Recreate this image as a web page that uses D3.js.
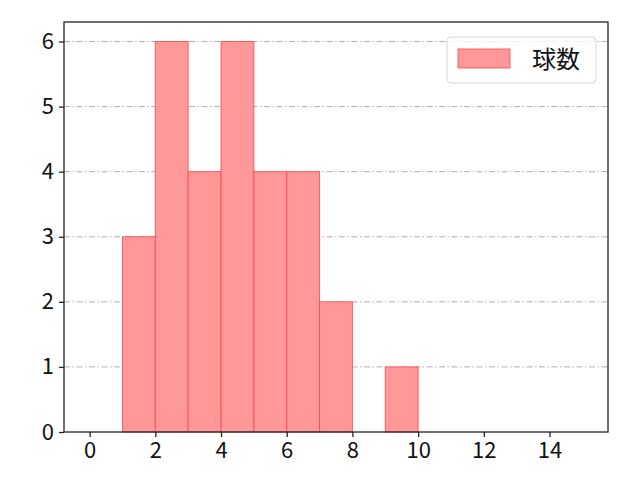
<!DOCTYPE html>
<html>
<head>
<meta charset="utf-8">
<script src="https://cdn.jsdelivr.net/npm/d3@7"></script>
<style>
  body { margin: 0; background: #fff; }
  text { font-family: "Noto Sans CJK JP", "DejaVu Sans", sans-serif; }
</style>
</head>
<body>
<script>
const width  = 640
const height = 480

// histogram bins (left edge, right edge) and counts
const binStart = [1, 2, 3, 4, 5, 6, 7, 8, 9]
const binEnd   = [2, 3, 4, 5, 6, 7, 8, 9, 10]
const counts   = [3, 6, 4, 6, 4, 4, 2, 0, 1]
const xTicks   = [0, 2, 4, 6, 8, 10, 12, 14]
const yTicks   = [0, 1, 2, 3, 4, 5, 6]
const seriesName = "球数"

const margin = {top: 22, right: 32, bottom: 48, left: 64}

const x = d3.scaleLinear()
	.domain([-0.78, 15.78])
	.range([margin.left, width - margin.right])

const y = d3.scaleLinear()
	.domain([0, 6.3])
	.range([height - margin.bottom, margin.top])

const svg = d3.select("body").append("svg")
	.attr("width", width)
	.attr("height", height)

//grid
svg.append("g")
  .selectAll("line")
  .data(yTicks.slice(1))
  .join("line")
	.attr("x1", margin.left)
	.attr("x2", width - margin.right)
	.attr("y1", d => y(d))
	.attr("y2", d => y(d))
	.attr("stroke", "#b0b0b0")
	.attr("stroke-width", 1)
	.attr("stroke-dasharray", "6,2.5,1.5,2.5")

//bars
const bins = counts.map((c, i) => ({x0: binStart[i], x1: binEnd[i], n: c}))
svg.append("g")
  .selectAll("rect")
  .data(bins.filter(d => d.n > 0))
  .join("rect")
	.attr("x", d => x(d.x0))
	.attr("width", d => x(d.x1) - x(d.x0))
	.attr("y", d => y(d.n))
	.attr("height", d => y(0) - y(d.n))
	.attr("fill", "#ff9999")
	.attr("stroke", "#ff4444")
	.attr("stroke-opacity", 0.8)
	.attr("stroke-width", 1)

//axes
const xAxis = svg.append("g")
	.attr("transform", `translate(0,${y(0)})`)
	.call(d3.axisBottom(x).tickValues(xTicks).tickFormat(d3.format("d")).tickSize(5).tickPadding(5).tickSizeOuter(0))
const yAxis = svg.append("g")
	.attr("transform", `translate(${margin.left},0)`)
	.call(d3.axisLeft(y).tickValues(yTicks).tickFormat(d3.format("d")).tickSize(5).tickPadding(5).tickSizeOuter(0))

for (const g of [xAxis, yAxis]) {
	g.attr("font-size", 22).attr("font-family", null)
	g.select(".domain").remove()
	g.selectAll("line").attr("stroke", "#222").attr("stroke-width", 1.3)
	g.selectAll("text").attr("fill", "#111")
		.attr("font-size", 22)
		.style("font-size", "22px")
		.style("font-family", '"Noto Sans CJK JP", "DejaVu Sans", sans-serif')
}

//frame
svg.append("rect")
	.attr("x", margin.left)
	.attr("y", margin.top)
	.attr("width", width - margin.left - margin.right)
	.attr("height", height - margin.top - margin.bottom)
	.attr("fill", "none")
	.attr("stroke", "#222")
	.attr("stroke-width", 1.3)

//legend
const lg = svg.append("g").attr("transform", "translate(447,37)")
lg.append("rect")
	.attr("width", 149).attr("height", 46).attr("rx", 4)
	.attr("fill", "white").attr("fill-opacity", 0.8)
	.attr("stroke", "#d6d6d6")
lg.append("rect")
	.attr("x", 11).attr("y", 12).attr("width", 52).attr("height", 19)
	.attr("fill", "#ff9999").attr("stroke", "#ff4444").attr("stroke-opacity", 0.8)
lg.append("text")
	.attr("x", 85).attr("y", 31)
	.style("font-size", "24px")
	.attr("fill", "#111")
	.text(seriesName)
</script>
</body>
</html>
